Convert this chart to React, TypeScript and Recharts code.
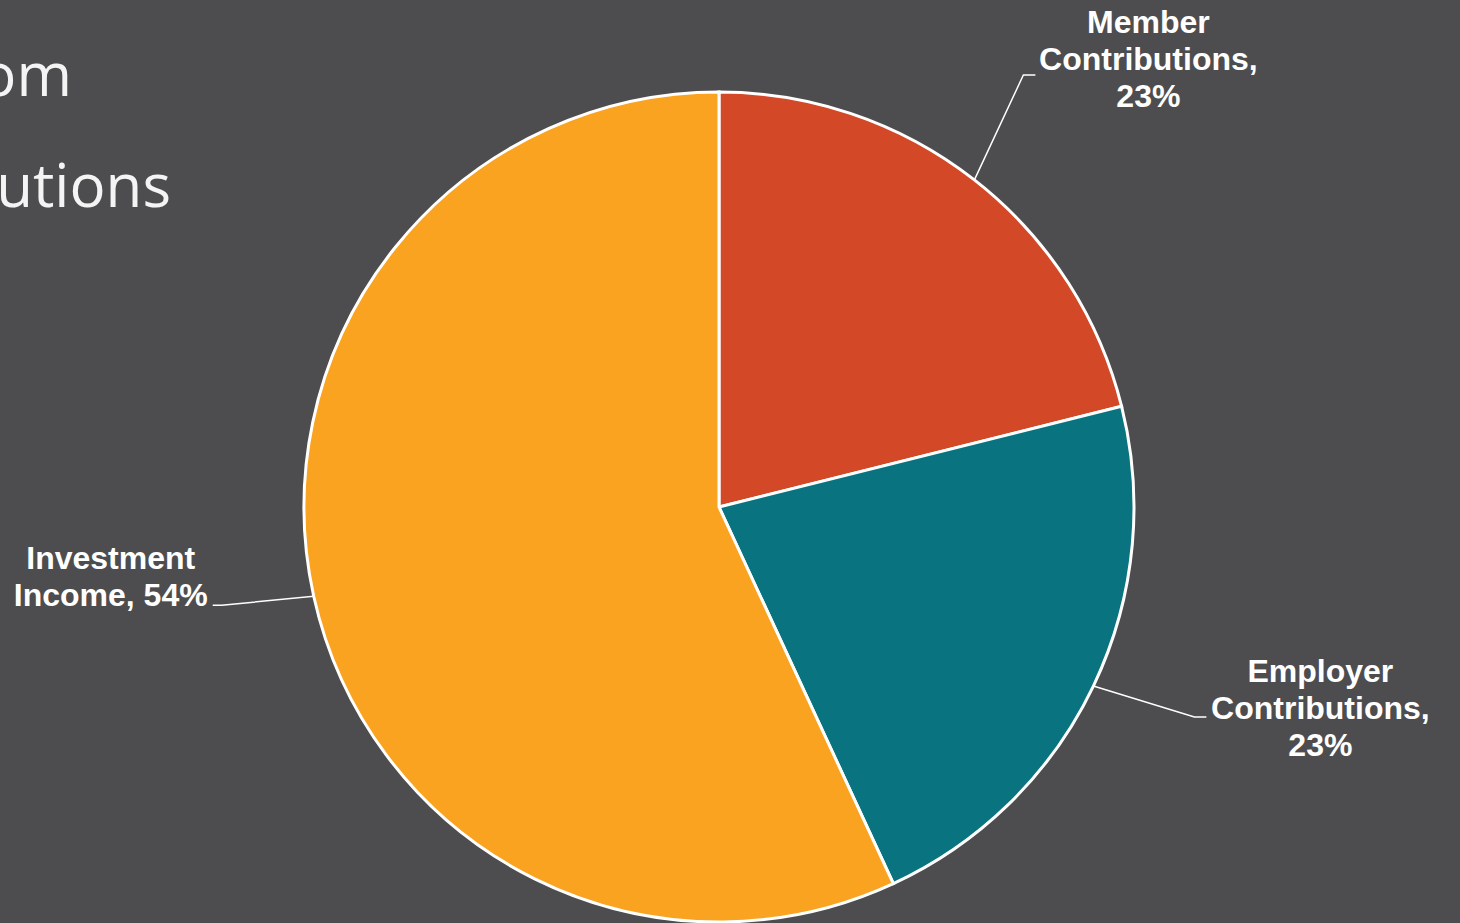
import React from "react";
import { Pie, PieChart, Cell } from "recharts";

// slice sizes as drawn (Excel labels show rounded shares of a different base)
const categories = ["Member Contributions", "Employer Contributions", "Investment Income"];
const sliceValues = [21.1, 22.0, 56.9];
const labelPercents = ["23%", "23%", "54%"];
const labelLines = [
  ["Member", "Contributions,", "23%"],
  ["Employer", "Contributions,", "23%"],
  ["Investment", "Income, 54%"],
];
const colors = ["#d34927", "#0a7380", "#f9a320"];
const titleFragments = ["om", "utions"];

// label placement: elbow offset from slice edge, then text block centre offset from elbow
const labelLayout = [
  { ex: 49, ey: -105, tail: 12, bx: 125, by: -16 },
  { ex: 101, ey: 31, tail: 12, bx: 126, by: -10 },
  { ex: -92, ey: 9, tail: -9, bx: -111, by: -29 },
];

const W = 1460;
const H = 923;
const BG = "#4d4d4f";
const FONT = "'Liberation Sans', Arial, sans-serif";

const renderLabel = (props: any) => {
  const RADIAN = Math.PI / 180;
  const { cx, cy, midAngle, outerRadius, index } = props;
  const lay = labelLayout[index];
  const sx = cx + outerRadius * Math.cos(-RADIAN * midAngle);
  const sy = cy + outerRadius * Math.sin(-RADIAN * midAngle);
  const mx = sx + lay.ex;
  const my = sy + lay.ey;
  const tx = mx + lay.tail;
  const lines = labelLines[index];
  const lh = 37;
  const fs = 32;
  const bcx = mx + lay.bx;
  const bcy = my + lay.by;
  const top = bcy - ((lines.length - 1) * lh) / 2;
  return (
    <g>
      <path
        d={`M${sx},${sy}L${mx},${my}L${tx},${my}`}
        stroke="#ffffff"
        strokeWidth={1.5}
        fill="none"
      />
      <text
        textAnchor="middle"
        fill="#ffffff"
        fontSize={fs}
        fontWeight={700}
        fontFamily={FONT}
      >
        {lines.map((l, i) => (
          <tspan key={i} x={bcx} y={top + i * lh + fs * 0.36}>
            {l}
          </tspan>
        ))}
      </text>
    </g>
  );
};

export default function App() {
  const data = categories.map((name, i) => ({
    name,
    value: sliceValues[i],
    label: labelPercents[i],
  }));
  return (
    <div
      style={{
        position: "fixed",
        left: 0,
        top: 0,
        width: W,
        height: H,
        background: BG,
        overflow: "hidden",
      }}
    >
      <svg
        width={W}
        height={H}
        style={{ position: "absolute", left: 0, top: 0, pointerEvents: "none" }}
      >
        <text
          x={72}
          y={96}
          textAnchor="end"
          fill="#f4f4f4"
          fontSize={60}
          fontWeight={400}
          fontFamily="'Open Sans', 'Noto Sans', sans-serif"
        >
          {titleFragments[0]}
        </text>
        <text
          x={171}
          y={207}
          textAnchor="end"
          fill="#f4f4f4"
          fontSize={60}
          fontWeight={400}
          fontFamily="'Open Sans', 'Noto Sans', sans-serif"
        >
          {titleFragments[1]}
        </text>
      </svg>
      <PieChart width={W} height={H} margin={{ top: 0, right: 0, bottom: 0, left: 0 }} style={{ position: "absolute", left: 0, top: 0 }}>
        <Pie
          data={data}
          dataKey="value"
          nameKey="name"
          cx={719}
          cy={507}
          outerRadius={415}
          startAngle={90}
          endAngle={-270}
          stroke="#ffffff"
          strokeWidth={3}
          label={renderLabel}
          labelLine={false}
          isAnimationActive={false}
        >
          {data.map((d, i) => (
            <Cell key={d.name} fill={colors[i]} />
          ))}
        </Pie>
      </PieChart>
    </div>
  );
}
